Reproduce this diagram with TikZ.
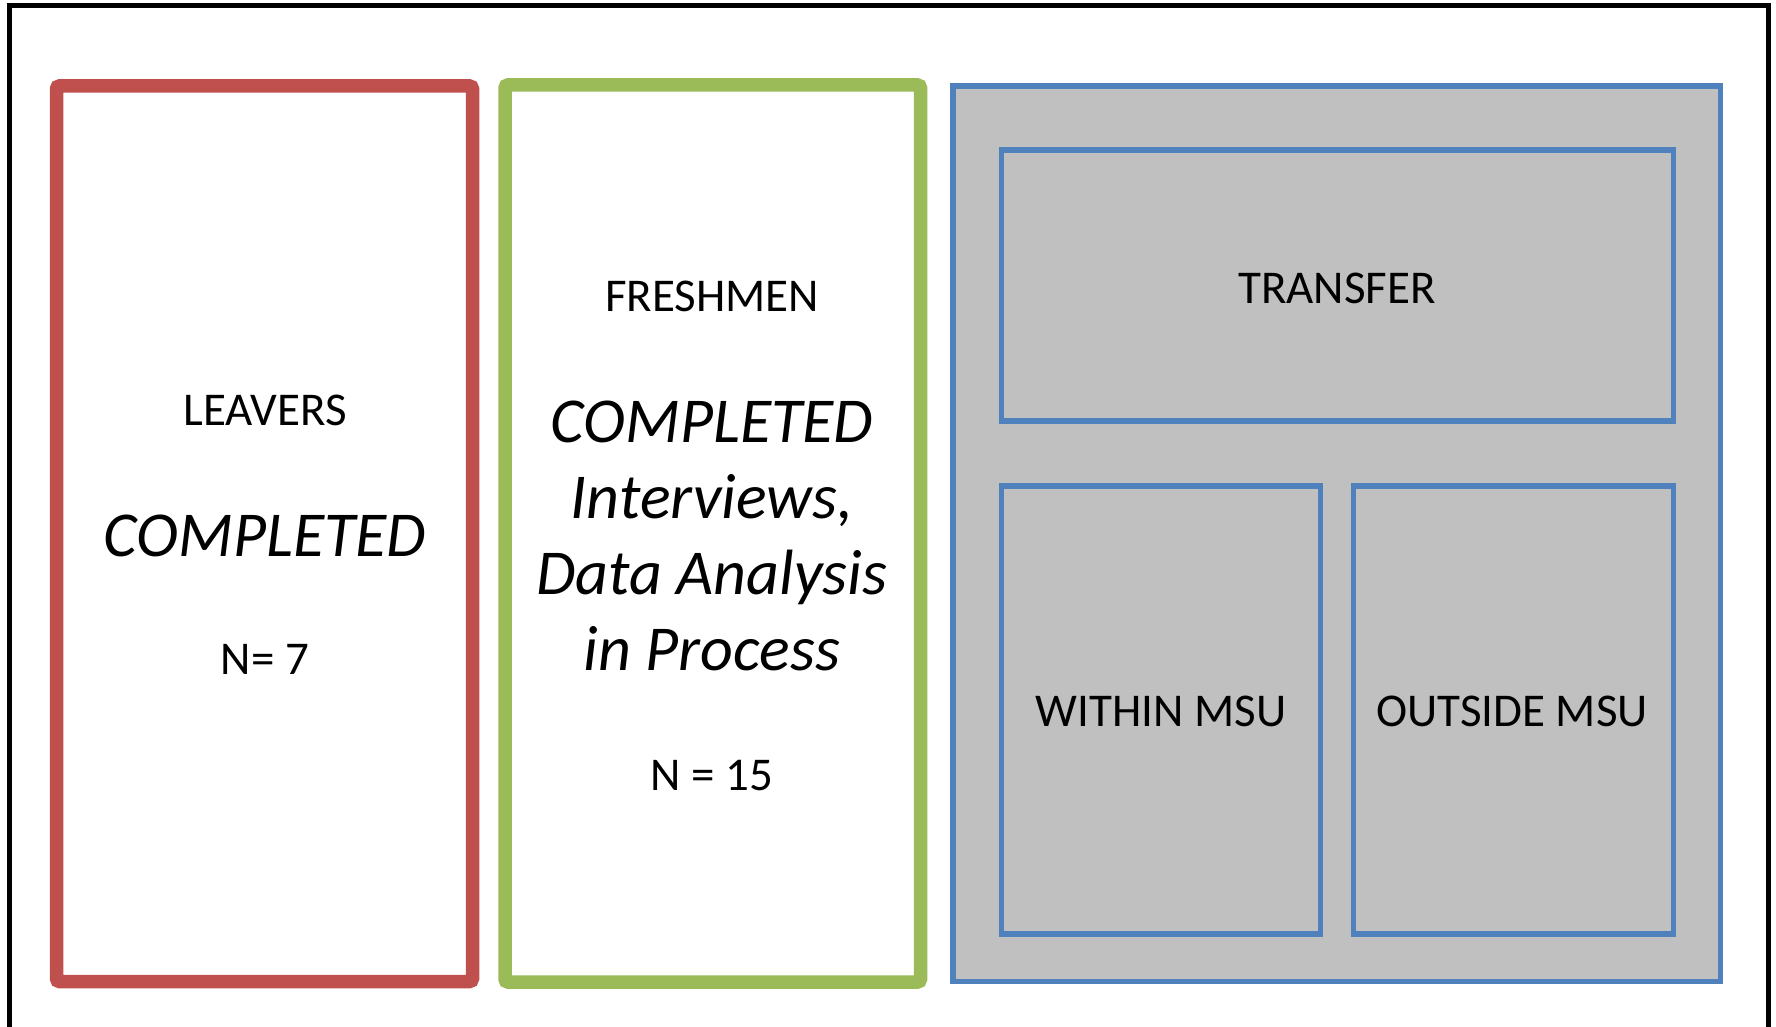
\documentclass[tikz,border=0pt]{standalone}
\usepackage{fontspec}
\setmainfont{Carlito}
\definecolor{cred}{HTML}{C0504D}
\definecolor{cgreen}{HTML}{9BBB59}
\definecolor{cblue}{HTML}{4F81BD}
\definecolor{cgray}{HTML}{C0C0C0}
\begin{document}
\begin{tikzpicture}[x=1pt,y=-1pt,
  lbl/.style={inner sep=0pt,font=\fontsize{47}{56}\selectfont},
  big/.style={inner sep=0pt,align=center,font=\fontsize{64}{76}\selectfont\itshape},
  redbox/.style={draw=cred,line width=13.5pt,rounded corners=3pt},
  greenbox/.style={draw=cgreen,line width=13.5pt,rounded corners=3pt},
  bluebox/.style={draw=cblue,line width=5.5pt},
]
\useasboundingbox (0,0) rectangle (1776,1027);
\clip (0,0) rectangle (1776,1027);
\fill[white] (0,0) rectangle (1776,1027);
\draw[line width=5pt] (9.5,6) rectangle (1768.5,1060);
% red box
\draw[redbox] (56.5,86) rectangle (472.5,981.5);
% green box
\draw[greenbox] (505,85) rectangle (920.5,982);
% blue outer
\draw[bluebox,fill=cgray] (953,86) rectangle (1720.5,981.5);
\draw[bluebox] (1001.5,150) rectangle (1673.5,421);
\draw[bluebox] (1001.5,486) rectangle (1320.5,934);
\draw[bluebox] (1353.5,486) rectangle (1673.5,934);
% texts
\node[lbl] (leavers) at (265,410) {LEAVERS};
\node[big] (lcomp) at (265,536) {COMPLETED};
\node[lbl] (ln) at (265,659) {N= 7};
\node[lbl] (fresh) at (712,296) {FRESHMEN};
\node[big] (fcomp) at (712,535.5) {COMPLETED\\Interviews,\\Data Analysis\\in Process};
\node[lbl] (fn) at (712,776) {N = 15};
\node[lbl] (transfer) at (1337,288) {TRANSFER};
\node[lbl] (within) at (1161,711) {WITHIN MSU};
\node[lbl] (outside) at (1512,711) {OUTSIDE MSU};
\end{tikzpicture}
\end{document}
